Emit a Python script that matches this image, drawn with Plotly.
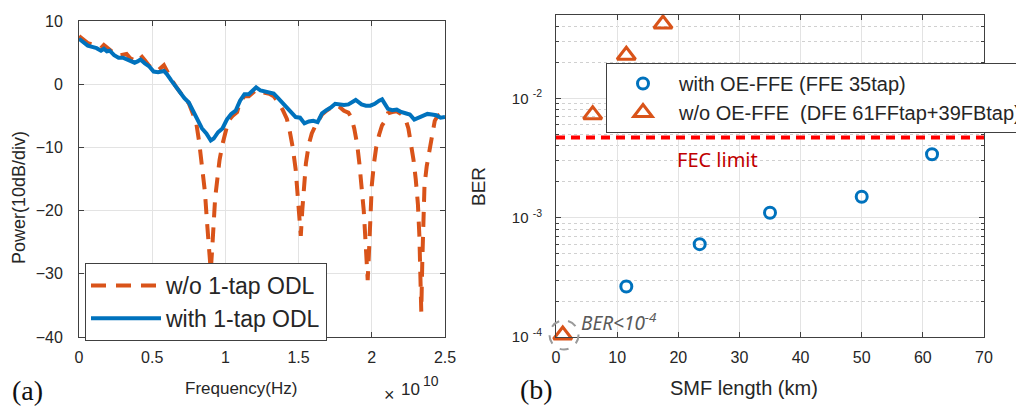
import plotly.graph_objects as go

# ---------------- (a) spectrum data (frequency in GHz, power in dB) ----------------
freq_wo_ghz = [0, 0.3, 0.6, 0.9, 1.2, 1.5, 1.7, 1.9, 2.1, 2.4, 2.7, 3.0, 3.25, 3.5, 3.8, 4.0, 4.2, 4.5, 4.8, 5.1,
               5.4, 5.8, 6.0, 6.3, 6.6, 6.9, 7.2, 7.5, 7.8, 8.0, 8.2, 8.4, 8.6, 8.75, 8.9, 9.0, 9.1, 9.2, 9.3, 9.45,
               9.6, 9.8, 10.0, 10.2, 10.5, 10.8, 11.0, 11.3, 11.6, 11.9, 12.1, 12.4, 12.7, 13.0, 13.3, 13.6, 13.9,
               14.2, 14.4, 14.6, 14.8, 14.95, 15.05, 15.15, 15.25, 15.35, 15.5, 15.7, 15.9, 16.1, 16.3, 16.6, 16.9,
               17.2, 17.5, 17.8, 18.1, 18.4, 18.6, 18.8, 19.0, 19.15, 19.3, 19.45, 19.55, 19.65, 19.72, 19.8, 19.88,
               20.0, 20.15, 20.3, 20.5, 20.7, 20.9, 21.1, 21.4, 21.7, 22.0, 22.3,
               22.5, 22.7, 22.85, 23.0, 23.15, 23.25, 23.32, 23.38, 23.45, 23.52, 23.6, 23.75, 23.9, 24.1, 24.3,
               24.5, 24.7, 25.0]
power_wo_db = [7.6, 7.0, 6.5, 6.3, 6.0, 5.7, 6.2, 5.8, 5.6, 4.9, 4.5, 4.6, 4.8, 4.1, 3.8, 4.0, 4.6, 3.8, 2.9, 2.3,
               2.2, 3.0, 2.0, 0.8, -0.3, -1.3, -2.2, -3.0, -4.6, -6.0, -9.0, -12.5, -17.0, -22.0, -26.5, -29.5, -26.0,
               -20.5, -18.0, -15.0, -12.0, -9.5, -7.5, -5.8, -5.0, -4.4, -2.8, -1.9, -1.9, -1.2, -0.9, -1.2, -1.3,
               -1.5, -1.9, -2.8, -4.0, -5.5, -7.5, -10.0, -13.5, -18.0, -22.0, -24.0, -20.0, -16.0, -12.5, -9.5,
               -7.8, -6.8, -6.1, -4.8, -4.2, -3.8, -3.3, -3.6, -4.2, -4.5, -5.2, -7.0, -9.5, -12.5, -16.0, -20.0,
               -24.0, -28.0, -31.0, -27.0, -21.0, -16.0, -12.5, -10.0, -8.0, -6.5, -5.8, -4.6, -4.4, -4.3, -4.7,
               -5.5, -7.0, -9.5, -12.0, -15.0, -19.0, -24.0, -30.0, -36.0, -28.0, -20.0, -16.0, -13.0, -11.0, -8.9,
               -5.8, -5.0, -4.8, -4.4]

freq_with_ghz = [0, 0.3, 0.6, 0.9, 1.2, 1.5, 1.7, 1.9, 2.1, 2.4, 2.7, 3.0, 3.25, 3.5, 3.8, 4.0, 4.2, 4.5, 4.8, 5.1,
                 5.4, 5.8, 6.0, 6.3, 6.6, 6.9, 7.2, 7.5, 7.8, 8.1, 8.4, 8.7, 9.0, 9.2, 9.5, 9.8, 10.1, 10.4, 10.7,
                 11.0, 11.3, 11.6, 11.9, 12.1, 12.4, 12.7, 13.0, 13.3, 13.6, 13.9, 14.2, 14.5, 14.8, 15.1, 15.4,
                 15.7, 16.0, 16.3, 16.6, 16.9, 17.2, 17.5, 17.8, 18.1, 18.4, 18.7, 18.9, 19.3, 19.6, 19.9, 20.2,
                 20.5, 20.7, 21.1, 21.4, 21.7, 22.0, 22.3, 22.6, 22.9, 23.2, 23.5, 23.8, 24.1, 24.4, 24.7, 25.0]
power_with_db = [7.2, 6.6, 6.1, 5.9, 5.7, 5.3, 5.6, 5.2, 5.3, 4.6, 4.2, 4.2, 3.9, 3.6, 3.4, 3.6, 3.9, 3.3, 2.8, 2.0,
                 1.9, 2.1, 1.6, 0.6, -0.4, -1.4, -2.2, -2.9, -4.2, -5.8, -7.0, -7.8, -8.9, -8.6, -7.6, -7.0, -5.6,
                 -4.7, -4.2, -2.6, -1.6, -1.6, -0.8, -0.5, -1.0, -1.2, -1.3, -1.5, -2.2, -3.0, -3.6, -4.6, -5.2,
                 -5.3, -6.2, -5.9, -5.8, -6.0, -4.6, -4.1, -3.7, -3.1, -3.2, -3.3, -3.2, -2.8, -2.5, -3.2, -3.4,
                 -3.4, -3.1, -2.6, -2.4, -3.9, -4.1, -4.0, -4.4, -4.6, -4.8, -5.6, -5.3, -4.9, -4.7, -4.8, -4.9,
                 -5.3, -5.2]

x_ticks_a = [0, 0.5, 1, 1.5, 2, 2.5]
y_ticks_a = [10, 0, -10, -20, -30, -40]

# ---------------- (b) BER data ----------------
smf_with_km = [11.5, 23.5, 35, 50, 61.5]
ber_with = [2.65e-4, 6.0e-4, 1.1e-3, 1.5e-3, 3.4e-3]
smf_wo_km = [1.1, 6, 11.5, 17.5]
ber_wo = [1.04e-4, 7.3e-3, 2.3e-2, 4.2e-2]
fec_limit = 4.7e-3
fec_span_km = [0, 70]

x_ticks_b = [0, 10, 20, 30, 40, 50, 60, 70]
y_ticks_b = [1e-4, 1e-3, 1e-2]
y_tick_text_b = ["10 <sup>-4</sup>", "10 <sup>-3</sup>", "10 <sup>-2</sup>"]

BLUE = "#0072BD"
ORANGE = "#D95319"
AXC = "#404040"
TXT = "#262626"
W, H = 1016, 407


def px(x):
    return x / W


def py(y):
    return 1 - y / H


fig = go.Figure()

fig.add_trace(go.Scatter(
    x=[f / 10 for f in freq_wo_ghz], y=power_wo_db, mode="lines", name="w/o 1-tap ODL",
    line=dict(color=ORANGE, width=4, dash="15px,10px"), xaxis="x", yaxis="y", legend="legend"))
fig.add_trace(go.Scatter(
    x=[f / 10 for f in freq_with_ghz], y=power_with_db, mode="lines", name="with 1-tap ODL",
    line=dict(color=BLUE, width=4), xaxis="x", yaxis="y", legend="legend"))

fig.add_trace(go.Scatter(
    x=fec_span_km, y=[fec_limit, fec_limit], mode="lines", showlegend=False,
    line=dict(color="#FF0000", width=4, dash="9px,6px"), xaxis="x2", yaxis="y2"))
fig.add_trace(go.Scatter(
    x=smf_with_km, y=ber_with, mode="markers", name="with OE-FFE (FFE 35tap)",
    marker=dict(symbol="circle-open", size=11, color=BLUE, line=dict(width=3, color=BLUE)),
    xaxis="x2", yaxis="y2", legend="legend2", cliponaxis=False))
fig.add_trace(go.Scatter(
    x=smf_wo_km, y=ber_wo, mode="markers", name="w/o OE-FFE\u00a0\u00a0(DFE 61FFtap+39FBtap)",
    marker=dict(symbol="triangle-up-open", size=16, color=ORANGE, line=dict(width=3, color=ORANGE)),
    xaxis="x2", yaxis="y2", legend="legend2", cliponaxis=False))

tickfont = dict(family="Liberation Sans, Arial", size=16, color=TXT)

fig.update_layout(
    width=W, height=H, margin=dict(l=0, r=0, t=0, b=0, autoexpand=False),
    paper_bgcolor="white", plot_bgcolor="white",
    font=dict(family="Liberation Sans, Arial", color=TXT),
    xaxis=dict(domain=[px(79), px(445)], range=[0, 2.5], tickvals=x_ticks_a,
               ticktext=[str(v) for v in x_ticks_a], ticks="inside", ticklen=5, tickcolor=AXC,
               showline=True, linecolor=AXC, linewidth=1, mirror="ticks", showgrid=True,
               gridcolor="#e3e3e3", gridwidth=1, zeroline=False, tickfont=tickfont,
               ticklabelstandoff=6, anchor="y"),
    yaxis=dict(domain=[py(337), py(21)], range=[-40, 10], tickvals=y_ticks_a,
               ticks="inside", ticklen=5, tickcolor=AXC,
               showline=True, linecolor=AXC, linewidth=1, mirror="ticks", showgrid=True,
               gridcolor="#e3e3e3", gridwidth=1, zeroline=False, tickfont=tickfont,
               ticklabelstandoff=12, anchor="x"),
    xaxis2=dict(domain=[px(556), px(984)], range=[0, 70], tickvals=x_ticks_b,
                ticks="inside", ticklen=5, tickcolor=AXC,
                showline=True, linecolor=AXC, linewidth=1, mirror="ticks", showgrid=True,
                gridcolor="#e3e3e3", gridwidth=1, zeroline=False, tickfont=tickfont,
                ticklabelstandoff=6, anchor="y2"),
    yaxis2=dict(domain=[py(337), py(15)], type="log", range=[-4, -1.301],
                tickvals=y_ticks_b, ticktext=y_tick_text_b,
                ticks="inside", ticklen=5, tickcolor=AXC,
                showline=True, linecolor=AXC, linewidth=1, mirror="ticks", showgrid=True,
                gridcolor="#e3e3e3", gridwidth=1, zeroline=False,
                tickfont=dict(family="Liberation Sans, Arial", size=15, color=TXT),
                ticklabelstandoff=10, anchor="x2",
                minor=dict(dtick="D1", ticks="inside", ticklen=3, tickcolor=AXC,
                           showgrid=True, griddash="dot", gridcolor="#d0d0d0", gridwidth=1)),
    legend=dict(x=px(85), y=py(263), xanchor="left", yanchor="top",
                bgcolor="white", bordercolor=AXC, borderwidth=1,
                font=dict(family="Liberation Sans, Arial", size=23, color=TXT),
                itemwidth=70, tracegroupgap=0),
    legend2=dict(x=px(606), y=py(63), xanchor="left", yanchor="top",
                 bgcolor="white", bordercolor=AXC, borderwidth=1,
                 font=dict(family="Liberation Sans, Arial", size=20, color=TXT),
                 itemwidth=62, tracegroupgap=0),
)

# dashed gray circle around the sub-1e-4 point (paper coordinates, not clipped by the axes)
cx, cy, r = 564, 335, 14.5
fig.add_shape(type="circle", xref="paper", yref="paper",
              x0=px(cx - r), x1=px(cx + r), y0=py(cy + r), y1=py(cy - r),
              line=dict(color="#9a9a9a", width=2, dash="dash"))

ann = [
    dict(text="Frequency(Hz)", x=px(241), y=py(388), size=17),
    dict(text="Power(10dB/div)", x=px(19), y=py(198), size=18, textangle=-90),
    dict(text="SMF length (km)", x=px(744), y=py(388), size=20),
    dict(text="BER", x=px(478), y=py(187), size=19, textangle=-90),
    dict(text="×", x=px(389), y=py(395), size=18),
    dict(text="10", x=px(410), y=py(389), size=17),
    dict(text="10", x=px(431), y=py(381), size=14),
]
for a in ann:
    fig.add_annotation(text=a["text"], x=a["x"], y=a["y"], xref="paper", yref="paper",
                       showarrow=False, textangle=a.get("textangle", 0),
                       font=dict(family="Liberation Sans, Arial", size=a["size"], color=TXT),
                       xanchor="center", yanchor="middle")

fig.add_annotation(text="(a)", x=px(27), y=py(390), xref="paper", yref="paper", showarrow=False,
                   xanchor="center", yanchor="middle",
                   font=dict(family="Liberation Serif, Times New Roman", size=28, color="#111"))
fig.add_annotation(text="(b)", x=px(536), y=py(389), xref="paper", yref="paper", showarrow=False,
                   xanchor="center", yanchor="middle",
                   font=dict(family="Liberation Serif, Times New Roman", size=28, color="#111"))
fig.add_annotation(text="FEC limit", x=px(675), y=py(160), xref="paper", yref="paper", showarrow=False,
                   xanchor="left", yanchor="middle",
                   font=dict(family="Noto Sans, Open Sans", size=20, color="#C00000"))
fig.add_annotation(text="<i>BER&lt;10<sup>-4</sup></i>", x=px(579), y=py(322), xref="paper", yref="paper",
                   showarrow=False, xanchor="left", yanchor="middle",
                   font=dict(family="Noto Sans, Open Sans", size=19, color="#595959"))

fig.write_html("out.html")
